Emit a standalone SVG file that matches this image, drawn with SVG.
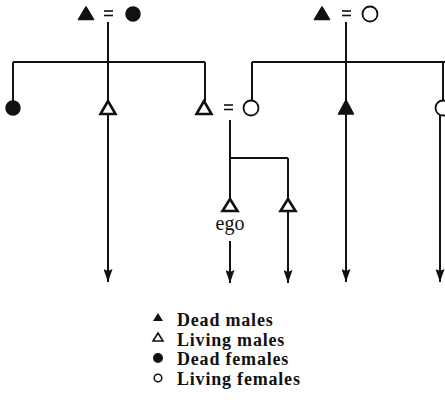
<svg xmlns="http://www.w3.org/2000/svg" width="445" height="400" viewBox="0 0 445 400">
  <style>
    .ln { stroke: #111; stroke-width: 2; fill: none; }
    .dm { fill: #111; stroke: #111; stroke-width: 1.5; stroke-linejoin: round; }
    .lm { fill: #fff; stroke: #111; stroke-width: 2.6; stroke-linejoin: miter; }
    .df { fill: #111; stroke: #111; stroke-width: 1.5; }
    .lf { fill: #fff; stroke: #111; stroke-width: 1.8; }
    .eq { stroke: #111; stroke-width: 1.6; }
    .txt { font-family: "Liberation Serif", "Times New Roman", serif; fill: #111; }
    .lg { font-size: 18px; font-weight: bold; letter-spacing: 0.8px; }
  </style>
  <defs>
    <marker id="arrow" viewBox="0 0 13 9" refX="13" refY="4.5" markerWidth="13" markerHeight="9" markerUnits="userSpaceOnUse" orient="auto">
      <path d="M0,0 L13,4.5 L0,9 L2,4.5 Z" fill="#111"/>
    </marker>
  </defs>

  <!-- descent lines -->
  <g id="connectors">
    <!-- left sibling set -->
    <path class="ln" d="M108,22 V62 M13,62 H205 M13,62 V102 M205,62 V101"/>
    <path class="ln" d="M108,62 V282" marker-end="url(#arrow)"/>
    <!-- right sibling set -->
    <path class="ln" d="M346,22 V62 M252,62 H445 M252,62 V100 M443,62 V100"/>
    <path class="ln" d="M346,62 V282" marker-end="url(#arrow)"/>
    <path class="ln" d="M440,114 V282" marker-end="url(#arrow)"/>
    <!-- ego's generation -->
    <path class="ln" d="M230,120 V200 M230,158 H288 M288,158 V200"/>
    <path class="ln" d="M288,210 V283" marker-end="url(#arrow)"/>
    <path class="ln" d="M230,241 V283" marker-end="url(#arrow)"/>
  </g>

  <!-- senior couples -->
  <g id="couple-left">
    <polygon class="dm" points="86,7 78.5,19.5 93.5,19.5"/>
    <line class="eq" x1="104" y1="11" x2="113" y2="11"/>
    <line class="eq" x1="104" y1="15.5" x2="113" y2="15.5"/>
    <circle class="df" cx="133" cy="14" r="7"/>
  </g>
  <g id="couple-right">
    <polygon class="dm" points="322,7 314.5,19.5 329.5,19.5"/>
    <line class="eq" x1="342" y1="11" x2="351" y2="11"/>
    <line class="eq" x1="342" y1="15.5" x2="351" y2="15.5"/>
    <circle class="lf" cx="370" cy="14" r="7.5"/>
  </g>

  <!-- children of the left couple -->
  <g id="sister-left"><circle class="df" cx="13" cy="108" r="7"/></g>
  <g id="brother-left"><polygon class="lm" points="108,101 100.5,114 115.5,114"/></g>
  <g id="father"><polygon class="lm" points="204,101 196.5,114 211.5,114"/></g>
  <g id="marriage">
    <line class="eq" x1="224" y1="105" x2="233" y2="105"/>
    <line class="eq" x1="224" y1="109.5" x2="233" y2="109.5"/>
  </g>

  <!-- children of the right couple -->
  <g id="mother"><circle class="lf" cx="251" cy="108" r="7.5"/></g>
  <g id="brother-right"><polygon class="dm" points="346,100 338.5,114 353.5,114"/></g>
  <g id="sister-right"><circle class="lf" cx="443" cy="108" r="7.5"/></g>

  <!-- ego and sibling -->
  <g id="ego">
    <polygon class="lm" points="230,199 222.5,211 237.5,211"/>
    <text class="txt" x="230" y="230" font-size="20" text-anchor="middle">ego</text>
  </g>
  <g id="ego-brother"><polygon class="lm" points="288,199 280.5,211 295.5,211"/></g>

  <!-- key -->
  <g id="legend">
    <polygon fill="#111" points="158,313 153,321 163,321"/>
    <text class="txt lg" x="177" y="326">Dead males</text>
    <polygon fill="#fff" stroke="#111" stroke-width="1.6" points="158,333 153,341 163,341"/>
    <text class="txt lg" x="177" y="346">Living males</text>
    <circle fill="#111" cx="158" cy="358" r="5"/>
    <text class="txt lg" x="177" y="365">Dead females</text>
    <circle fill="#fff" stroke="#111" stroke-width="1.5" cx="158" cy="378" r="3.8"/>
    <text class="txt lg" x="177" y="385">Living females</text>
  </g>
</svg>
